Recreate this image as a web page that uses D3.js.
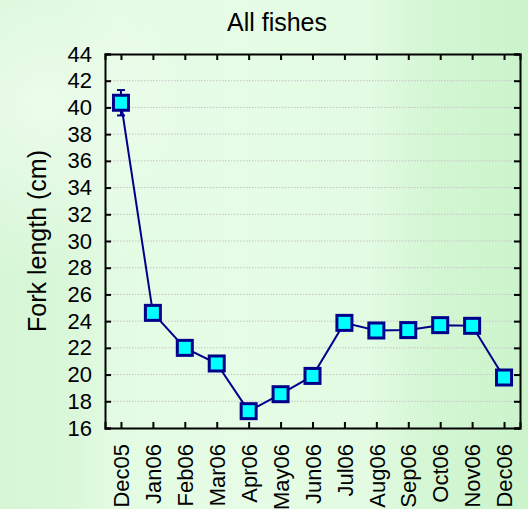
<!DOCTYPE html>
<html>
<head>
<meta charset="utf-8">
<script src="https://cdn.jsdelivr.net/npm/d3@7/dist/d3.min.js"></script>
<style>
  html, body { margin: 0; padding: 0; }
  body { width: 528px; height: 509px; overflow: hidden; }
  svg { display: block; font-family: "Liberation Sans", Arial, sans-serif; }
</style>
</head>
<body>
<svg id="chart" width="528" height="509"></svg>
<script>
// Monthly sampling periods
const months = ["Dec05", "Jan06", "Feb06", "Mar06", "Apr06", "May06", "Jun06",
                "Jul06", "Aug06", "Sep06", "Oct06", "Nov06", "Dec06"];
// Mean fork length (cm) per month
const forkLength = [40.35, 24.62, 22.0, 20.83, 17.26, 18.53, 19.9,
                    23.87, 23.3, 23.33, 23.7, 23.65, 19.78];
// Standard error of the mean (cm)
const forkSE = [0.95, 0.3, 0.25, 0.25, 0.3, 0.25, 0.25,
                0.3, 0.2, 0.2, 0.2, 0.2, 0.3];
// Y axis tick values
const yTicks = [16, 18, 20, 22, 24, 26, 28, 30, 32, 34, 36, 38, 40, 42, 44];

const W = 528, H = 509;
const m = { left: 105, right: 8, top: 54, bottom: 81 };
const pw = W - m.left - m.right, ph = H - m.top - m.bottom;

const svg = d3.select("#chart");

// Soft green backdrop
const defs = svg.append("defs");
const bg = defs.append("linearGradient").attr("id", "bg")
  .attr("x1", "0").attr("y1", "0").attr("x2", "1").attr("y2", "0");
[["0%", "#d6f6d6"], ["12%", "#d9f7d9"], ["22%", "#e3fbe3"], ["45%", "#e6fce6"],
 ["70%", "#e2fbe2"], ["82%", "#d3f6d3"], ["100%", "#cbf4cb"]]
  .forEach(([o, c]) => bg.append("stop").attr("offset", o).attr("stop-color", c));
const glow = defs.append("radialGradient").attr("id", "glow")
  .attr("cx", "0.08").attr("cy", "0.2").attr("r", "0.35");
glow.append("stop").attr("offset", "0%").attr("stop-color", "#f0fdf0").attr("stop-opacity", 0.8);
glow.append("stop").attr("offset", "100%").attr("stop-color", "#f0fdf0").attr("stop-opacity", 0);

svg.append("rect").attr("width", W).attr("height", H).attr("fill", "url(#bg)");
svg.append("rect").attr("width", W).attr("height", H).attr("fill", "url(#glow)");

const x = d3.scalePoint().domain(months).range([0, pw]).padding(0.5);
const y = d3.scaleLinear().domain([16, 44]).range([ph, 0]);

const g = svg.append("g").attr("transform", `translate(${m.left},${m.top})`);

// Dotted horizontal gridlines
g.append("g").selectAll("line")
  .data(yTicks.filter(v => v > 16 && v < 44))
  .join("line")
  .attr("x1", 0).attr("x2", pw)
  .attr("y1", d => y(d)).attr("y2", d => y(d))
  .attr("stroke", "#c4c4c4").attr("stroke-width", 1)
  .attr("stroke-dasharray", "1.5,1.5");

// Axes with inward ticks on all four sides
const tick = 6;
const axL = g.append("g").call(d3.axisLeft(y).tickValues(yTicks).tickSize(-tick).tickPadding(13));
const axR = g.append("g").attr("transform", `translate(${pw},0)`)
  .call(d3.axisRight(y).tickValues(yTicks).tickSize(-tick).tickFormat(""));
const axB = g.append("g").attr("transform", `translate(0,${ph})`)
  .call(d3.axisBottom(x).tickSize(-tick).tickPadding(0));
const axT = g.append("g").call(d3.axisTop(x).tickSize(-tick).tickFormat(""));

[axL, axR, axB, axT].forEach(a => {
  a.select(".domain").attr("stroke", "#000").attr("stroke-width", 2);
  a.selectAll(".tick line").attr("stroke", "#000").attr("stroke-width", 2);
});
axL.selectAll("text").attr("font-size", 22).attr("fill", "#000")
  .attr("font-family", "Liberation Sans, Arial, sans-serif");
axB.selectAll("text")
  .attr("font-size", 22).attr("fill", "#000")
  .attr("font-family", "Liberation Sans, Arial, sans-serif")
  .attr("text-anchor", "end")
  .attr("dy", "0.35em")
  .attr("transform", "translate(0,16) rotate(-90)");

// Error bars
const eb = g.append("g").attr("stroke", "#00008b").attr("stroke-width", 2);
months.forEach((mo, i) => {
  const cx = x(mo);
  const hi = y(forkLength[i] + forkSE[i]), lo = y(forkLength[i] - forkSE[i]);
  eb.append("line").attr("x1", cx).attr("x2", cx).attr("y1", hi).attr("y2", lo);
  eb.append("line").attr("x1", cx - 4).attr("x2", cx + 4).attr("y1", hi).attr("y2", hi);
  eb.append("line").attr("x1", cx - 4).attr("x2", cx + 4).attr("y1", lo).attr("y2", lo);
});

// Connecting line
const line = d3.line().x((d, i) => x(months[i])).y(d => y(d));
g.append("path").datum(forkLength)
  .attr("d", line)
  .attr("fill", "none").attr("stroke", "#00008b").attr("stroke-width", 2);

// Square markers
const s = 15;
g.append("g").selectAll("rect")
  .data(forkLength)
  .join("rect")
  .attr("x", (d, i) => x(months[i]) - s / 2)
  .attr("y", d => y(d) - s / 2)
  .attr("width", s).attr("height", s)
  .attr("fill", "#00ffff").attr("stroke", "#00008b").attr("stroke-width", 3);

// Title and y-axis label
svg.append("text").attr("x", 277).attr("y", 31)
  .attr("text-anchor", "middle").attr("font-size", 25).attr("fill", "#000")
  .text("All fishes");
svg.append("text")
  .attr("transform", `translate(46,${m.top + ph / 2}) rotate(-90)`)
  .attr("text-anchor", "middle").attr("font-size", 25).attr("fill", "#000")
  .text("Fork length (cm)");
</script>
</body>
</html>
